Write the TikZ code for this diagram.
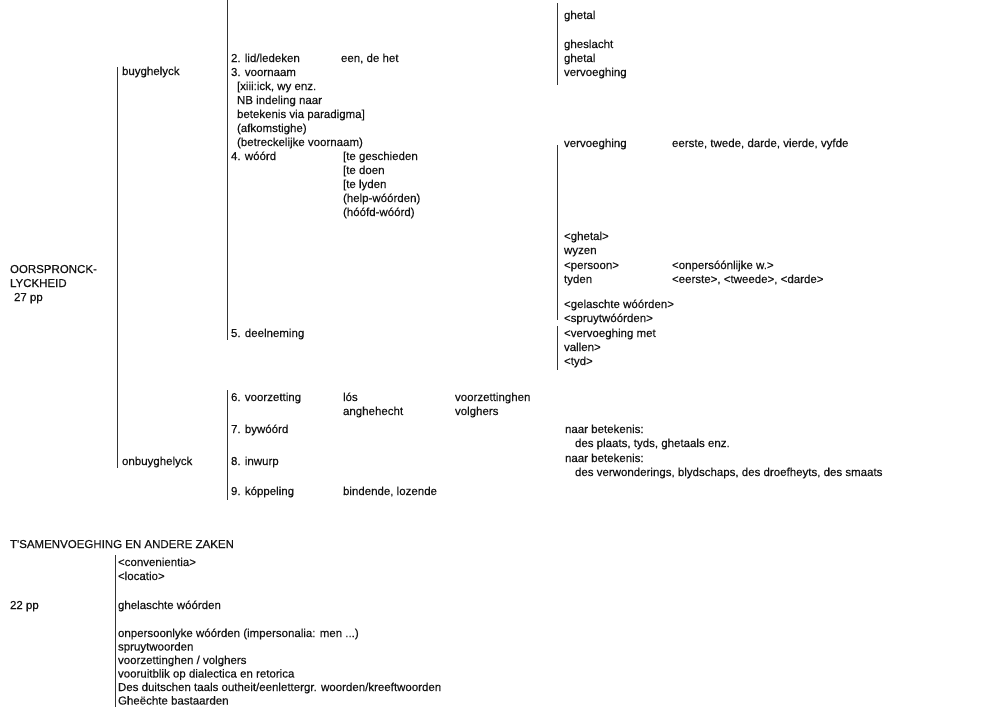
\documentclass[tikz,border=0pt]{standalone}
\usepackage{fontspec}
\setmainfont{Liberation Sans}
\newfontfamily\lbfont{Liberation Sans}[FakeBold=0.3]
\begin{document}
\begin{tikzpicture}[x=1pt,y=-1pt,
  lbl/.style={anchor=base west,inner sep=0pt,outer sep=0pt,font=\lbfont\fontsize{11.5}{14}\selectfont,text=black!92},
  bar/.style={line width=1pt,draw=black!80}]
\useasboundingbox (0,0) rectangle (1006,712);
\fill[white] (0,0) rectangle (1006,712);
% ---------- main head ----------
\node[lbl] (o1) at (10,273) {OORSPRONCK-};
\node[lbl] (o2) at (10,287) {LYCKHEID};
\node[lbl] (o3) at (14,301) {27 pp};
% ---------- level 2 ----------
\coordinate (b1t) at (117,67);
\coordinate (b1b) at (117,468);
\draw[bar] (b1t) -- (b1b);
\node[lbl] (buy) at (122,75) {buyghelyck};
\node[lbl] (onb) at (122,465) {onbuyghelyck};
% ---------- buyghelyck items ----------
\coordinate (b2t) at (227,0);
\coordinate (b2b) at (227,340);
\draw[bar] (b2t) -- (b2b);
\node[lbl] (i2) at (231,62) {2. lid/ledeken};
\node[lbl] (i2a) at (341,62) {een, de het};
\node[lbl] (i3) at (231,76) {3. voornaam};
\node[lbl] (i3a) at (237,90) {[xiii:ick, wy enz.};
\node[lbl] (i3b) at (237,104) {NB indeling naar};
\node[lbl] (i3c) at (237,118) {betekenis via paradigma]};
\node[lbl] (i3d) at (237,132) {(afkomstighe)};
\node[lbl] (i3e) at (237,146) {(betreckelijke voornaam)};
\node[lbl] (i4) at (231,160) {4. wóórd};
\node[lbl] (i4a) at (343,160) {[te geschieden};
\node[lbl] (i4b) at (343,174) {[te doen};
\node[lbl] (i4c) at (343,188) {[te lyden};
\node[lbl] (i4d) at (343,202) {(help-wóórden)};
\node[lbl] (i4e) at (343,216) {(hóófd-wóórd)};
\node[lbl] (i5) at (231,337) {5. deelneming};
% ---------- onbuyghelyck items ----------
\coordinate (b3t) at (227,390);
\coordinate (b3b) at (227,500);
\draw[bar] (b3t) -- (b3b);
\node[lbl] (i6) at (231,401) {6. voorzetting};
\node[lbl] (i6a) at (343,401) {lós};
\node[lbl] (i6b) at (343,415) {anghehecht};
\node[lbl] (i6c) at (455,401) {voorzettinghen};
\node[lbl] (i6d) at (455,415) {volghers};
\node[lbl] (i7) at (231,433) {7. bywóórd};
\node[lbl] (i8) at (231,465) {8. inwurp};
\node[lbl] (i9) at (231,495) {9. kóppeling};
\node[lbl] (i9a) at (343,495) {bindende, lozende};
% ---------- right column ----------
\coordinate (r1t) at (557,3);
\coordinate (r1b) at (557,85);
\draw[bar] (r1t) -- (r1b);
\node[lbl] (r1) at (564,19) {ghetal};
\node[lbl] (r2) at (564,48) {gheslacht};
\node[lbl] (r3) at (564,62) {ghetal};
\node[lbl] (r4) at (564,76) {vervoeghing};
\coordinate (r2t) at (557,145);
\coordinate (r2b) at (557,320);
\draw[bar] (r2t) -- (r2b);
\node[lbl] (r5) at (564,147) {vervoeghing};
\node[lbl] (r5a) at (672,147) {eerste, twede, darde, vierde, vyfde};
\node[lbl] (r6) at (564,240) {<ghetal>};
\node[lbl] (r7) at (564,254) {wyzen};
\node[lbl] (r8) at (564,269) {<persoon>};
\node[lbl] (r8a) at (672,269) {<onpersóónlijke w.>};
\node[lbl] (r9) at (564,283) {tyden};
\node[lbl] (r9a) at (672,283) {<eerste>, <tweede>, <darde>};
\node[lbl] (r10) at (564,308) {<gelaschte wóórden>};
\node[lbl] (r11) at (564,322) {<spruytwóórden>};
\coordinate (r3t) at (557,326);
\coordinate (r3b) at (557,370);
\draw[bar] (r3t) -- (r3b);
\node[lbl] (r12) at (564,337) {<vervoeghing met};
\node[lbl] (r13) at (564,351) {vallen>};
\node[lbl] (r14) at (564,365) {<tyd>};
\node[lbl] (r15) at (565,433) {naar betekenis:};
\node[lbl] (r16) at (575,447) {des plaats, tyds, ghetaals enz.};
\node[lbl] (r17) at (565,462) {naar betekenis:};
\node[lbl] (r18) at (575,476) {des verwonderings, blydschaps, des droefheyts, des smaats};
% ---------- bottom part ----------
\node[lbl] (t0) at (10,548) {T'SAMENVOEGHING EN ANDERE ZAKEN};
\coordinate (b4t) at (115,555);
\coordinate (b4b) at (115,707);
\draw[bar] (b4t) -- (b4b);
\node[lbl] (t1) at (118,566) {<convenientia>};
\node[lbl] (t2) at (118,580) {<locatio>};
\node[lbl] (t22) at (10,609) {22 pp};
\node[lbl] (t3) at (118,609) {ghelaschte wóórden};
\node[lbl] (t4) at (118,637) {onpersoonlyke wóórden (impersonalia: men ...)};
\node[lbl] (t5) at (118,650.5) {spruytwoorden};
\node[lbl] (t6) at (118,664) {voorzettinghen / volghers};
\node[lbl] (t7) at (118,677.5) {vooruitblik op dialectica en retorica};
\node[lbl] (t8) at (118,691) {Des duitschen taals outheit/eenlettergr. woorden/kreeftwoorden};
\node[lbl] (t9) at (118,704.5) {Gheëchte bastaarden};
\end{tikzpicture}
\end{document}
